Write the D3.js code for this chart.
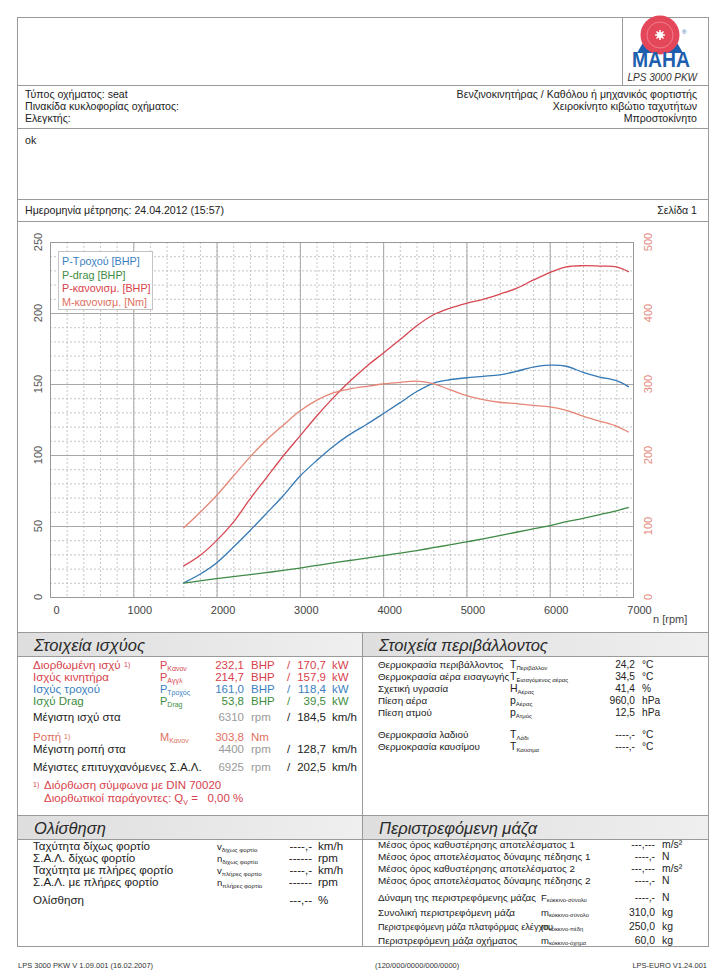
<!DOCTYPE html>
<html>
<head>
<meta charset="utf-8">
<script src="https://cdn.jsdelivr.net/npm/d3@7"></script>
<style>
  body { margin: 0; background: #fff; }
  svg text { font-family: "Liberation Sans", Arial, sans-serif; }
</style>
</head>
<body>
<svg id="page" width="724" height="980"></svg>
<script>
/*################
Data
################*/
const rpm = [1600, 1800, 2000, 2200, 2400, 2600, 2800, 3000, 3200, 3400, 3600, 3800, 4000, 4200,
    4400, 4600, 4800, 5000, 5200, 5400, 5600, 5800, 6000, 6200, 6400, 6600, 6800, 6950];

// P-Τροχού [BHP]
const pWheel = [9.8, 16, 24, 35, 46.7, 58.9, 71.3, 85, 96, 106, 114.5, 121.5, 129, 136.7,
    144.5, 150.5, 153, 154.4, 155.4, 156.5, 158.9, 161.9, 163.3, 162.5, 158.2, 154.9, 152.3, 148];
// P-drag [BHP]
const pDrag = [9.8, 11.3, 12.9, 14.3, 15.7, 17.2, 18.7, 20.4, 22.2, 24, 25.7, 27.4, 29.2, 30.9,
    32.7, 34.7, 36.7, 38.8, 40.9, 43.2, 45.6, 47.9, 50.2, 53, 55.4, 58, 60.7, 63.1];
// P-κανονισμ. [BHP]
const pCorr = [21.7, 29.2, 39.7, 52.6, 68.9, 84.1, 99.3, 113.3, 127.3, 140.2, 151.9, 162.4, 171.7, 181.1,
    190.9, 198.6, 203.3, 206.8, 209.6, 213.3, 217.3, 223.1, 228.5, 232.5, 233.3, 233, 232.5, 229];
// M-κανονισμ. [Nm]
const mCorr = [96.7, 119, 143, 170, 197, 221, 242, 262, 277, 287.5, 293, 296.7, 300, 302.3,
    304, 300.5, 292, 283.6, 278, 274.3, 272.4, 270, 267.8, 263, 254.7, 247.7, 240.7, 232];

const rpmTicks = [0, 1000, 2000, 3000, 4000, 5000, 6000, 7000];
const powerTicks = [0, 50, 100, 150, 200, 250];
const torqueTicks = [0, 100, 200, 300, 400, 500];

const legendNames = ['P-Τροχού [BHP]', 'P-drag [BHP]', 'P-κανονισμ. [BHP]', 'M-κανονισμ. [Nm]'];

const red = '#d8424c', salmon = '#e07060', blue = '#3a80c0', green = '#3d8c40';
const lineColors = ['#3579b5', '#3f8a45', '#d64752', '#e58575'];
const textColors = [blue, green, red, salmon];

/*################
Page frame and header
################*/
const svg = d3.select('#page');
const F = '"Liberation Sans", Arial, sans-serif';

let hline = (y, x1 = 17, x2 = 709) => svg.append('line')
    .attr('x1', x1).attr('x2', x2).attr('y1', y).attr('y2', y)
    .attr('stroke', '#9a9a9a').attr('stroke-width', 1);
let vline = (x, y1, y2) => svg.append('line')
    .attr('x1', x).attr('x2', x).attr('y1', y1).attr('y2', y2)
    .attr('stroke', '#9a9a9a').attr('stroke-width', 1);
let txt = (x, y, s, opts = {}) => svg.append('text')
    .attr('x', x).attr('y', y)
    .attr('font-size', opts.size || 10.6)
    .attr('fill', opts.fill || '#222')
    .attr('text-anchor', opts.anchor || 'start')
    .attr('font-style', opts.italic ? 'italic' : null)
    .text(s);

svg.append('rect').attr('x', 17.5).attr('y', 17.5).attr('width', 691).attr('height', 929)
    .attr('fill', 'none').attr('stroke', '#9a9a9a');
hline(85.5);
vline(622.5, 17, 85);
hline(128.5);
hline(199.5);
hline(221.5);
hline(632.5);
vline(362.5, 632, 947);
hline(815.5);

// logo
const logo = svg.append('g');
logo.append('path')
    .attr('d', 'M637,53 L644,41 L676,41 L683,53 Z')
    .attr('fill', '#1d5fae');
logo.append('circle').attr('cx', 660).attr('cy', 35).attr('r', 19.5).attr('fill', '#e4475a');
logo.append('circle').attr('cx', 660).attr('cy', 35).attr('r', 13).attr('fill', 'none')
    .attr('stroke', '#f38b97').attr('stroke-width', 0.8);
logo.append('circle').attr('cx', 660).attr('cy', 35).attr('r', 3).attr('fill', '#fff');
d3.range(0, 360, 45).forEach(a => {
    logo.append('line')
        .attr('x1', 660).attr('y1', 35)
        .attr('x2', 660 + 5 * Math.cos(a * Math.PI / 180))
        .attr('y2', 35 + 5 * Math.sin(a * Math.PI / 180))
        .attr('stroke', '#fff').attr('stroke-width', 1.5);
});
logo.append('text').attr('x', 661).attr('y', 67).attr('text-anchor', 'middle')
    .attr('font-size', 22).attr('font-weight', 'bold').attr('fill', '#1d5fae')
    .attr('textLength', 58).attr('lengthAdjust', 'spacingAndGlyphs').text('MAHA');
logo.append('text').attr('x', 682).attr('y', 34).attr('font-size', 6).attr('fill', '#1d5fae').text('®');
txt(697, 81, 'LPS 3000 PKW', { size: 10, italic: true, anchor: 'end', fill: '#333' });

txt(25, 98, 'Τύπος οχήματος: seat');
txt(25, 110, 'Πινακίδα κυκλοφορίας οχήματος:');
txt(25, 122, 'Ελεγκτής:');
txt(697, 98, 'Βενζινοκινητήρας / Καθόλου ή μηχανικός φορτιστής', { anchor: 'end' });
txt(697, 110, 'Χειροκίνητο κιβώτιο ταχυτήτων', { anchor: 'end' });
txt(697, 122, 'Μπροστοκίνητο', { anchor: 'end' });
txt(25, 144, 'ok');
txt(25, 214, 'Ημερομηνία μέτρησης: 24.04.2012 (15:57)');
txt(697, 214, 'Σελίδα 1', { anchor: 'end' });

/*################
Chart
################*/
const x = d3.scaleLinear().domain([0, 7000]).range([50, 633]);
const yP = d3.scaleLinear().domain([0, 250]).range([597, 242]);
const yM = d3.scaleLinear().domain([0, 500]).range([597, 242]);

const chart = svg.append('g');

// minor dashed grid
chart.selectAll('.vminor').data(x.ticks(35)).enter().append('line')
    .attr('x1', d => x(d) + 0.5).attr('x2', d => x(d) + 0.5)
    .attr('y1', yP(250)).attr('y2', yP(0))
    .attr('stroke', '#b8b8b8').attr('stroke-dasharray', '2,2').attr('stroke-width', 0.8);
chart.selectAll('.hminor').data(yP.ticks(25)).enter().append('line')
    .attr('x1', x(0)).attr('x2', x(7000))
    .attr('y1', d => yP(d) + 0.5).attr('y2', d => yP(d) + 0.5)
    .attr('stroke', '#b8b8b8').attr('stroke-dasharray', '2,2').attr('stroke-width', 0.8);
// major grid
chart.selectAll('.vmajor').data(rpmTicks).enter().append('line')
    .attr('x1', d => x(d) + 0.5).attr('x2', d => x(d) + 0.5)
    .attr('y1', yP(250)).attr('y2', yP(0))
    .attr('stroke', '#a8a8a8').attr('stroke-width', 1);
chart.selectAll('.hmajor').data(powerTicks).enter().append('line')
    .attr('x1', x(0)).attr('x2', x(7000))
    .attr('y1', d => yP(d) + 0.5).attr('y2', d => yP(d) + 0.5)
    .attr('stroke', '#a8a8a8').attr('stroke-width', 1);
chart.append('rect')
    .attr('x', x(0) + 0.5).attr('y', yP(250) + 0.5)
    .attr('width', x(7000) - x(0)).attr('height', yP(0) - yP(250))
    .attr('fill', 'none').attr('stroke', '#999');

// axes
const xAxis = chart.append('g').attr('transform', `translate(0,${yP(0)})`)
    .call(d3.axisBottom(x).tickValues(rpmTicks).tickFormat(d3.format('d')).tickSize(0).tickPadding(9));
xAxis.select('.domain').remove();
xAxis.selectAll('text').attr('font-size', 11).attr('fill', '#444').attr('dx', 6).attr('font-family', F);

const yAxisL = chart.append('g').attr('transform', `translate(${x(0)},0)`)
    .call(d3.axisLeft(yP).tickValues(powerTicks).tickSize(0));
yAxisL.select('.domain').remove();
yAxisL.selectAll('text')
    .attr('font-size', 11).attr('fill', '#555').attr('font-family', F)
    .attr('transform', d => `rotate(-90, -12, ${yP(d)})`)
    .attr('x', -12).attr('y', d => yP(d)).attr('dy', '0.35em')
    .attr('text-anchor', 'middle')
    .each(function () { d3.select(this.parentNode).attr('transform', null); });

const yAxisR = chart.append('g').attr('transform', `translate(${x(7000)},0)`)
    .call(d3.axisRight(yM).tickValues(torqueTicks).tickSize(0));
yAxisR.select('.domain').remove();
yAxisR.selectAll('text')
    .attr('font-size', 11).attr('fill', '#e58a7c').attr('font-family', F)
    .attr('transform', d => `rotate(-90, 15, ${yM(d)})`)
    .attr('x', 15).attr('y', d => yM(d)).attr('dy', '0.35em')
    .attr('text-anchor', 'middle')
    .each(function () { d3.select(this.parentNode).attr('transform', null); });

txt(653, 623, 'n [rpm]', { size: 11, fill: '#444' });

// curves
const series = [
    { vals: pWheel, y: yP },
    { vals: pDrag, y: yP },
    { vals: pCorr, y: yP },
    { vals: mCorr, y: yM }
];
series.forEach((s, i) => {
    const line = d3.line()
        .x((d, j) => x(rpm[j]))
        .y(d => s.y(d))
        .curve(d3.curveCatmullRom.alpha(0.5));
    chart.append('path')
        .attr('d', line(s.vals))
        .attr('fill', 'none')
        .attr('stroke', lineColors[i])
        .attr('stroke-width', 1.3);
});

// legend
const legend = chart.append('g');
legend.append('rect').attr('x', 58.5).attr('y', 251.5).attr('width', 94).attr('height', 58)
    .attr('fill', '#fff').attr('stroke', '#c4c4c4');
legend.selectAll('text').data(legendNames).enter().append('text')
    .attr('x', 62).attr('y', (d, i) => 265 + i * 13.6)
    .attr('font-size', 10.8)
    .attr('fill', (d, i) => textColors[i])
    .text(d => d);

/*################
Tables
################*/
const grad = svg.append('defs').append('linearGradient').attr('id', 'band')
    .attr('x1', 0).attr('x2', 1).attr('y1', 0).attr('y2', 0);
grad.append('stop').attr('offset', 0).attr('stop-color', '#dedede');
grad.append('stop').attr('offset', 1).attr('stop-color', '#efefef');

let band = (x0, x1, y0, y1, title) => {
    svg.append('rect').attr('x', x0).attr('y', y0).attr('width', x1 - x0).attr('height', y1 - y0)
        .attr('fill', 'url(#band)');
    txt(x0 + 16, y1 - 5, title, { size: 16.5, italic: true, fill: '#2a2a2a' });
};
band(18, 362, 633, 656, 'Στοιχεία ισχύος');
band(363, 708, 633, 656, 'Στοιχεία περιβάλλοντος');
band(18, 362, 816, 839, 'Ολίσθηση');
band(363, 708, 816, 839, 'Περιστρεφόμενη μάζα');
hline(656.5, 17, 709);
hline(839.5, 17, 709);

// symbol with subscript
let sym = (x0, y, base, sub, color, bs = 11, ss = 7, dy = 2) => {
    const t = svg.append('text').attr('x', x0).attr('y', y).attr('fill', color).attr('font-size', bs);
    t.append('tspan').text(base);
    t.append('tspan').attr('font-size', ss).attr('dy', dy).text(sub);
};
let sup = (x0, y, s, color) => txt(x0, y - 2, s, { size: 7, fill: color });

// power data
const PS = 11.5;
const powerRows = [
    { label: 'Διορθωμένη ισχύ', note: true, s: ['P', 'Κανον'], v1: '232,1', u1: 'BHP', v2: '170,7', u2: 'kW', c: red, y: 669 },
    { label: 'Ισχύς κινητήρα', s: ['P', 'Αγγλ'], v1: '214,7', u1: 'BHP', v2: '157,9', u2: 'kW', c: red, y: 681 },
    { label: 'Ισχύς τροχού', s: ['P', 'Τροχός'], v1: '161,0', u1: 'BHP', v2: '118,4', u2: 'kW', c: blue, y: 693 },
    { label: 'Ισχύ Drag', s: ['P', 'Drag'], v1: '53,8', u1: 'BHP', v2: '39,5', u2: 'kW', c: green, y: 705 }
];
powerRows.forEach(r => {
    txt(33, r.y, r.label, { fill: r.c, size: PS });
    if (r.note) sup(124, r.y, '1)', r.c);
    sym(160, r.y, r.s[0], r.s[1], r.c, 11, 7);
    txt(244, r.y, r.v1, { fill: r.c, anchor: 'end', size: PS });
    txt(251, r.y, r.u1, { fill: r.c, size: PS });
    txt(287, r.y, '/', { fill: r.c, size: PS });
    txt(326, r.y, r.v2, { fill: r.c, anchor: 'end', size: PS });
    txt(332, r.y, r.u2, { fill: r.c, size: PS });
});
let maxRow = (y, label, n, v) => {
    txt(33, y, label, { size: PS });
    txt(244, y, n, { fill: '#9a9a9a', anchor: 'end', size: PS });
    txt(251, y, 'rpm', { fill: '#9a9a9a', size: PS });
    txt(287, y, '/', { size: PS });
    txt(326, y, v, { anchor: 'end', size: PS });
    txt(332, y, 'km/h', { size: PS });
};
maxRow(721, 'Μέγιστη ισχύ στα', '6310', '184,5');
txt(33, 741, 'Ροπή', { fill: salmon, size: PS });
sup(64, 741, '1)', salmon);
sym(160, 741, 'M', 'Κανον', salmon, 11, 7);
txt(244, 741, '303,8', { fill: salmon, anchor: 'end', size: PS });
txt(251, 741, 'Nm', { fill: salmon, size: PS });
maxRow(753, 'Μέγιστη ροπή στα', '4400', '128,7');
maxRow(771, 'Μέγιστες επιτυγχανόμενες Σ.Α.Λ.', '6925', '202,5');
sup(33, 789, '1)', red);
txt(44, 789, 'Διόρθωση σύμφωνα με DIN 70020', { fill: red, size: PS });
const qv = svg.append('text').attr('x', 44).attr('y', 802).attr('font-size', PS).attr('fill', red)
    .style('white-space', 'pre');
qv.append('tspan').text('Διορθωτικοί παράγοντες: Q');
qv.append('tspan').attr('font-size', 7).attr('dy', 2.5).text('V');
qv.append('tspan').attr('dy', -2.5).text(' =   0,00 %');

// environment
const ES = 9.8;
const envLabels = ['Θερμοκρασία περιβάλλοντος', 'Θερμοκρασία αέρα εισαγωγής', 'Σχετική υγρασία',
    'Πίεση αέρα', 'Πίεση ατμού', 'Θερμοκρασία λαδιού', 'Θερμοκρασία καυσίμου'];
const envSymbols = [['T', 'Περιβάλλον'], ['T', 'Εισαγόμενος αέρας'], ['H', 'Αέρας'], ['p', 'Αέρας'],
    ['p', 'Ατμός'], ['T', 'Λάδι'], ['T', 'Καύσιμα']];
const envValues = ['24,2', '34,5', '41,4', '960,0', '12,5', '----,-', '----,-'];
const envUnits = ['°C', '°C', '%', 'hPa', 'hPa', '°C', '°C'];
const envY = [668, 680, 692, 704, 716, 738, 750];
envLabels.forEach((l, i) => {
    txt(378, envY[i], l, { size: ES });
    sym(510, envY[i], envSymbols[i][0], envSymbols[i][1], '#222', 10.5, 6);
    txt(635, envY[i], envValues[i], { anchor: 'end', size: 10.2 });
    txt(642, envY[i], envUnits[i], { size: 10.2 });
});

// slip
const SS = 11.6;
const slipLabels = ['Ταχύτητα δίχως φορτίο', 'Σ.Α.Λ. δίχως φορτίο', 'Ταχύτητα με πλήρες φορτίο',
    'Σ.Α.Λ. με πλήρες φορτίο', 'Ολίσθηση'];
const slipSymbols = [['v', 'δίχως φορτίο'], ['n', 'δίχως φορτίο'], ['v', 'πλήρες φορτίο'], ['n', 'πλήρες φορτίο'], null];
const slipValues = ['----,-', '------', '----,-', '------', '---,--'];
const slipUnits = ['km/h', 'rpm', 'km/h', 'rpm', '%'];
const slipY = [850, 862, 874, 886, 904];
slipLabels.forEach((l, i) => {
    txt(33, slipY[i], l, { size: SS });
    if (slipSymbols[i]) sym(217, slipY[i], slipSymbols[i][0], slipSymbols[i][1], '#222', 9.5, 6.2);
    txt(312, slipY[i], slipValues[i], { anchor: 'end', size: SS });
    txt(318, slipY[i], slipUnits[i], { size: SS });
});

// rotating mass
const MS = 9.9;
const massLabels = ['Μέσος όρος καθυστέρησης αποτελέσματος 1', 'Μέσος όρος αποτελέσματος δύναμης πέδησης 1',
    'Μέσος όρος καθυστέρησης αποτελέσματος 2', 'Μέσος όρος αποτελέσματος δύναμης πέδησης 2',
    'Δύναμη της περιστρεφόμενης μάζας', 'Συνολική περιστρεφόμενη μάζα',
    'Περιστρεφόμενη μάζα πλατφόρμας ελέγχου', 'Περιστρεφόμενη μάζα οχήματος'];
const massSymbols = [null, null, null, null, ['F', 'κόκκινο-σύνολο'], ['m', 'κόκκινο-σύνολο'],
    ['m', 'κόκκινο-πέδη'], ['m', 'κόκκινο-όχημα']];
const massValues = ['---,---', '----,-', '---,---', '----,-', '----,-', '310,0', '250,0', '60,0'];
const massUnits = ['m/s²', 'N', 'm/s²', 'N', 'N', 'kg', 'kg', 'kg'];
const massY = [848, 860, 872, 884, 901, 916, 930, 944];
massLabels.forEach((l, i) => {
    txt(378, massY[i], l, { size: i === 6 ? 9.1 : MS });
    if (massSymbols[i]) sym(541, massY[i], massSymbols[i][0], massSymbols[i][1], '#222', 9.5, 5.8, 1);
    txt(655, massY[i], massValues[i], { anchor: 'end', size: 10.4 });
    txt(662, massY[i], massUnits[i], { size: 10.4 });
});

// footer
txt(18, 968, 'LPS 3000 PKW V 1.09.001 (16.02.2007)', { size: 7.5, fill: '#333' });
txt(375, 968, '(120/000/0000/000/0000)', { size: 7.5, fill: '#333' });
txt(707, 968, 'LPS-EURO V1.24.001', { size: 7.5, fill: '#333', anchor: 'end' });
</script>
</body>
</html>
